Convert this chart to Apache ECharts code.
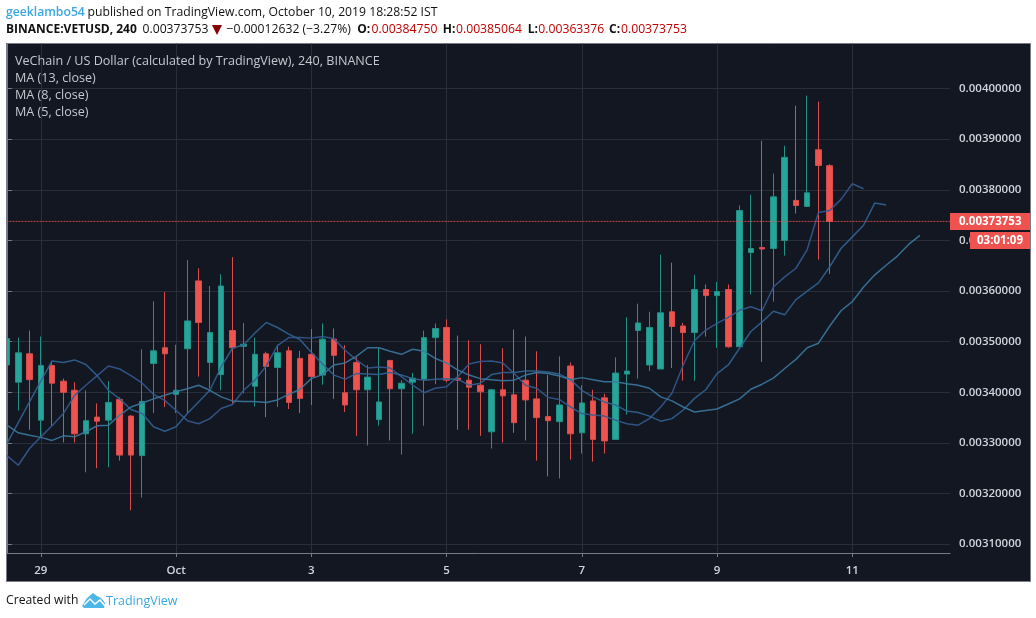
<!DOCTYPE html>
<html><head><meta charset="utf-8">
<style>html,body{margin:0;padding:0;background:#fff}#c{width:1036px;height:618px}</style>
<script src="https://cdn.jsdelivr.net/npm/echarts@6/dist/echarts.min.js"></script>
</head><body><div id="c"></div>
<script>
const opens=[0.003454,0.003420,0.003476,0.003345,0.003453,0.003422,0.003404,0.003318,0.003351,0.003345,0.003386,0.003353,0.003275,0.003457,0.003488,0.003396,0.003486,0.003620,0.003459,0.003435,0.003522,0.003491,0.003412,0.003476,0.003449,0.003482,0.003467,0.003475,0.003434,
0.003505,0.003399,0.003459,0.003405,0.003346,0.003463,0.003407,0.003420,0.003426,0.003508,0.003528,0.003428,0.003424,0.003414,0.003322,0.003405,0.003395,0.003424,0.003387,0.003352,0.003342,0.003452,0.003320,0.003383,0.003389,0.003307,0.003436,0.003522,
0.003454,0.003446,0.003559,0.003531,0.003518,0.003603,0.003591,0.003603,0.003490,0.003676,0.003686,0.003684,0.003700,0.003779,0.003767,0.003879,0.00384750];
const closes=[0.003506,0.003478,0.003425,0.003453,0.003418,0.003400,0.003318,0.003344,0.003343,0.003380,0.003276,0.003276,0.003382,0.003482,0.003476,0.003404,0.003541,0.003538,0.003518,0.003610,0.003488,0.003495,0.003475,0.003451,0.003478,0.003380,0.003388,0.003431,0.003505,
0.003473,0.003375,0.003405,0.003430,0.003381,0.003407,0.003418,0.003428,0.003508,0.003526,0.003424,0.003424,0.003410,0.003401,0.003405,0.003393,0.003340,0.003385,0.003350,0.003344,0.003375,0.003318,0.003379,0.003307,0.003304,0.003438,0.003442,0.003537,
0.003528,0.003557,0.003530,0.003518,0.003603,0.003591,0.003599,0.003490,0.003759,0.003684,0.003683,0.003786,0.003864,0.003769,0.003794,0.003848,0.00373753];
const highs=[0.003520,0.003508,0.003522,0.003510,0.003462,0.003427,0.003420,0.003404,0.003378,0.003422,0.003390,0.003355,0.003485,0.003580,0.003598,0.003494,0.003661,0.003645,0.003610,0.003633,0.003667,0.003537,0.003508,0.003480,0.003494,0.003490,0.003482,0.003525,0.003536,
0.003526,0.003493,0.003469,0.003454,0.003487,0.003463,0.003424,0.003438,0.003522,0.003536,0.003544,0.003512,0.003503,0.003495,0.003407,0.003487,0.003524,0.003510,0.003481,0.003434,0.003471,0.003459,0.003414,0.003405,0.003397,0.003469,0.003548,0.003575,
0.003559,0.003672,0.003656,0.003537,0.003632,0.003613,0.003618,0.003613,0.003769,0.003790,0.003897,0.003832,0.003887,0.003966,0.003986,0.003974,0.00385064];
const lows=[0.003440,0.003364,0.003326,0.003313,0.003334,0.003301,0.003301,0.003242,0.003250,0.003252,0.003265,0.003167,0.003192,0.003359,0.003371,0.003359,0.003359,0.003431,0.003408,0.003404,0.003378,0.003398,0.003372,0.003351,0.003371,0.003367,0.003359,0.003375,0.003415,
0.003387,0.003361,0.003314,0.003295,0.003334,0.003305,0.003277,0.003318,0.003334,0.003416,0.003420,0.003326,0.003326,0.003314,0.003289,0.003301,0.003320,0.003305,0.003265,0.003234,0.003230,0.003267,0.003279,0.003263,0.003279,0.003307,0.003356,0.003427,
0.003442,0.003446,0.003448,0.003423,0.003423,0.003510,0.003488,0.003488,0.003490,0.003593,0.003460,0.003579,0.003670,0.003753,0.003767,0.003662,0.00363376];
const ma5=[0.003275,0.003256,0.003289,0.003312,0.003334,0.003358,0.003394,0.003414,0.003433,0.003452,0.003446,0.003433,0.003418,0.003396,0.003384,0.003364,0.003344,0.003338,0.003348,0.003368,0.003376,0.003404,0.003424,0.003452,0.003492,0.003508,0.003508,0.003507,0.003510,
0.003506,0.003483,0.003464,0.003448,0.003450,0.003448,0.003431,0.003414,0.003399,0.003408,0.003411,0.003431,0.003456,0.003461,0.003462,0.003458,0.003437,0.003414,0.003408,0.003390,0.003386,0.003371,0.003358,0.003355,0.003353,0.003345,0.003338,0.003335,0.003348,0.003371,0.003398,
0.003454,0.003502,0.003523,0.003536,0.003548,0.003562,0.003569,0.003561,0.003608,0.003628,0.003645,0.003682,0.003755,0.003759,0.003781,0.003812,0.003802];
const ma8=[0.003299,0.003340,0.003381,0.003422,0.003462,0.003459,0.003464,0.003455,0.003433,0.003404,0.003387,0.003366,0.003358,0.003332,0.003323,0.003332,0.003358,0.003381,0.003404,0.003450,0.003487,0.003494,0.003517,0.003538,0.003528,0.003515,0.003504,0.003479,0.003456,
0.003434,0.003426,0.003437,0.003436,0.003435,0.003439,0.003434,0.003427,0.003424,0.003426,0.003427,0.003426,0.003414,0.003418,0.003435,0.003439,0.003439,0.003442,0.003442,0.003440,0.003436,0.003425,0.003404,0.003391,0.003381,0.003375,0.003363,0.003360,0.003353,0.003343,0.003348,
0.003365,0.003388,0.003405,0.003437,0.003454,0.003487,0.003520,0.003539,0.003560,0.003553,0.003583,0.003600,0.003616,0.003648,0.003684,0.003707,0.003730,0.003774,0.003770];
const ma13=[0.003335,0.003320,0.003315,0.003311,0.003305,0.003314,0.003312,0.003322,0.003334,0.003335,0.003355,0.003371,0.003379,0.003387,0.003394,0.003401,0.003407,0.003414,0.003404,0.003391,0.003383,0.003382,0.003382,0.003380,0.003385,0.003396,0.003406,0.003427,0.003435,
0.003454,0.003458,0.003471,0.003488,0.003488,0.003481,0.003475,0.003485,0.003481,0.003467,0.003458,0.003444,0.003434,0.003427,0.003425,0.003423,0.003424,0.003434,0.003439,0.003437,0.003432,0.003425,0.003429,0.003425,0.003421,0.003421,0.003417,0.003414,0.003408,0.003391,0.003383,
0.003371,0.003361,0.003364,0.003367,0.003377,0.003387,0.003406,0.003416,0.003428,0.003447,0.003465,0.003488,0.003497,0.003531,0.003561,0.003579,0.003608,0.003632,0.003651,0.003669,0.003692,0.003710];
const lastPrice=0.00373753;
const priceTicks=[0.0031,0.0032,0.0033,0.0034,0.0035,0.0036,0.0037,0.0038,0.0039,0.0040];
const timeTickIndex=[3,15,27,39,51,63,75];
const timeTickLabels=['29','Oct','3','5','7','9','11'];

const UI='"Open Sans","Noto Sans",sans-serif';
const xMin=-0.044,xMax=83.67;
const candles=opens.map((o,i)=>[i,o,closes[i],lows[i],highs[i]]);
const toPts=a=>a.map((v,i)=>[i,v]);
const maLine=(name,data,color)=>({name,type:'line',data:toPts(data),showSymbol:false,silent:true,z:5,
  lineStyle:{color,width:1.5,opacity:.9},itemStyle:{color}});
const txt=(x,y,text,fill,font)=>({type:'text',z:51,x,y,style:{text,fill,font:font+' '+UI,textVerticalAlign:'middle'}});
const DK='#111',RED='#c00000',N='12.2px',B='700 12px';
const chart=echarts.init(document.getElementById('c'),null,{renderer:'canvas'});
chart.setOption({
  animation:false,backgroundColor:'#ffffff',color:['#35598f','#316393','#3b789f','#ef5350'],
  grid:{left:6.5,top:43.5,width:943.5,height:509.5,containLabel:false},
  xAxis:{type:'value',min:xMin,max:xMax,
    axisLine:{onZero:false,lineStyle:{color:'#787b86',width:1}},
    axisTick:{show:true,length:4,customValues:timeTickIndex,lineStyle:{color:'#787b86'}},
    splitLine:{show:true,lineStyle:{color:'#2a2e39',width:1}},
    axisLabel:{customValues:timeTickIndex,margin:10,color:'#d1d4dc',fontFamily:UI,fontSize:11.5,fontWeight:600,padding:[2,0,0,0],
      formatter:v=>timeTickLabels[timeTickIndex.indexOf(Math.round(v))]||''}},
  yAxis:{type:'value',position:'right',scale:true,min:0.00308262,max:0.00408889,
    axisLine:{show:true,lineStyle:{color:'#787b86',width:1}},
    axisTick:{show:true,length:5,customValues:priceTicks,lineStyle:{color:'#787b86'}},
    splitLine:{show:true,lineStyle:{color:'#2a2e39',width:1}},
    axisLabel:{customValues:priceTicks,margin:9,color:'#d1d4dc',fontFamily:UI,fontSize:11.5,fontWeight:600,padding:[2,0,0,0],
      formatter:v=>v.toFixed(8)}},
  series:[
    {name:'VETUSD',type:'candlestick',data:candles,barWidth:6,z:3,silent:true,
     itemStyle:{color:'#26a69a',color0:'#ef5350',borderColor:'#219085',borderColor0:'#d84d4b',borderWidth:1}},
    maLine('MA (5, close)',ma5,'#35598f'),
    maLine('MA (8, close)',ma8,'#316393'),
    maLine('MA (13, close)',ma13,'#3b789f'),
    {name:'Last price',type:'line',data:[[xMin,lastPrice],[xMax,lastPrice]],showSymbol:false,silent:true,z:6,
     itemStyle:{color:'#ef5350'},lineStyle:{color:'#ef5350',type:[2,1],width:1,opacity:.8}}
  ],
  graphic:[
    {type:'rect',z:-10,shape:{x:6.5,y:43.5,width:1024,height:538},style:{fill:'#131722',stroke:'#787b86',lineWidth:1}},
    {type:'rect',z:40,shape:{x:0,y:43,width:6,height:539},style:{fill:'#ffffff'}},
    {type:'line',z:41,shape:{x1:6.5,y1:43,x2:6.5,y2:582},style:{stroke:'#787b86',lineWidth:1}},
    {type:'rect',z:50,shape:{x:950,y:213,width:80,height:17},style:{fill:'#ef5350'}},
    txt(959,222,lastPrice.toFixed(8),'#fff','700 11.5px'),
    {type:'rect',z:50,shape:{x:970,y:232,width:60,height:17},style:{fill:'#ef5350'}},
    {type:'text',z:51,x:1000,y:241,style:{text:'03:01:09',fill:'#fff',font:'700 11.5px '+UI,textAlign:'center',textVerticalAlign:'middle'}},
    txt(15,61,'VeChain / US Dollar (calculated by TradingView), 240, BINANCE','#c5c8d0','12.6px'),
    txt(15,78,'MA (13, close)','#c5c8d0','12.6px'),
    txt(15,95,'MA (8, close)','#c5c8d0','12.6px'),
    txt(15,112,'MA (5, close)','#c5c8d0','12.6px'),
    txt(6,13,'geeklambo54','#3ba7e0','600 12.2px'),
    txt(87.5,13,'published on TradingView.com, October 10, 2019 18:28:52 IST',DK,N),
    txt(6,30,'BINANCE:VETUSD, 240',DK,B),
    txt(142.5,30,'0.00373753',DK,N),
    {type:'polygon',z:51,shape:{points:[[212,25],[222,25],[217,35]]},style:{fill:'#8b0000'}},
    txt(226.5,30,'−0.00012632 (−3.27%)',DK,N),
    txt(357.3,30,'O:',DK,B), txt(371.5,30,'0.00384750',RED,N),
    txt(442.7,30,'H:',DK,B), txt(456,30,'0.00385064',RED,N),
    txt(527.7,30,'L:',DK,B), txt(538.3,30,'0.00363376',RED,N),
    txt(609,30,'C:',DK,B), txt(621,30,'0.00373753',RED,N),
    txt(6,601,'Created with',DK,N),
    {type:'polygon',z:51,shape:{points:[[82,606],[87,598],[93,593],[97,596],[101,598],[105,603],[104,608],[84,608]]},style:{fill:'#4db8e8'}},
    {type:'polyline',z:52,shape:{points:[[84,605],[90,599],[95,604],[100,600],[105,606]]},style:{stroke:'#fff',fill:'none',lineWidth:1.4}},
    txt(106,601,'TradingView','#3ba7e0','12.5px')
  ]
});
</script></body></html>
